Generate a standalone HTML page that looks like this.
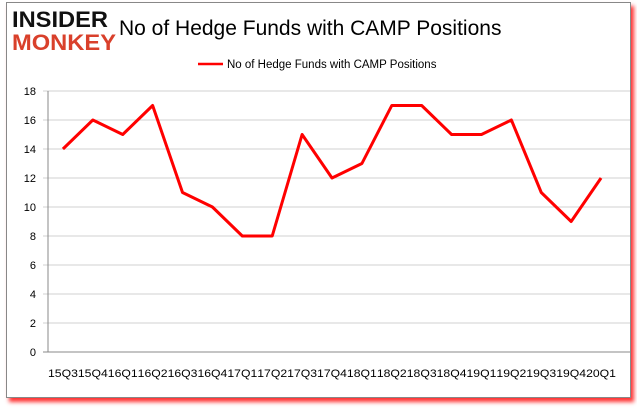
<!DOCTYPE html>
<html><head><style>
body{margin:0;background:#fff;width:637px;height:408px;overflow:hidden;font-family:"Liberation Sans",sans-serif}
#frame{position:absolute;left:6px;top:2px;width:623px;height:394px;border:1px solid #888;background:#fff;box-shadow:3px 4px 4px #f33}
</style></head><body>
<div id="frame"></div>
<svg width="637" height="408" style="position:absolute;left:0;top:0">
<text x="12" y="27" font-size="22" font-weight="900" fill="#111" font-family="Liberation Sans" textLength="96" lengthAdjust="spacingAndGlyphs">INSIDER</text>
<text x="12" y="50" font-size="22" font-weight="900" fill="#d9402b" font-family="Liberation Sans" textLength="104" lengthAdjust="spacingAndGlyphs">MONKEY</text>
<text x="119" y="35" font-size="21" fill="#000">No of Hedge Funds with CAMP Positions</text>
<line x1="198" y1="64" x2="223" y2="64" stroke="red" stroke-width="2.5"/>
<text x="227" y="68" font-size="11.5" fill="#000">No of Hedge Funds with CAMP Positions</text>
<g id="grid"></g><g id="ylab"></g><g id="xlab"></g>
<polyline id="series" fill="none" stroke="red" stroke-width="3" stroke-linejoin="round"/>
</svg>
<script>
const categories=["15Q3","15Q4","16Q1","16Q2","16Q3","16Q4","17Q1","17Q2","17Q3","17Q4","18Q1","18Q2","18Q3","18Q4","19Q1","19Q2","19Q3","19Q4","20Q1"];
const values=[14,16,15,17,11,10,8,8,15,12,13,17,17,15,15,16,11,9,12];
const yTicks=[0,2,4,6,8,10,12,14,16,18];
const L=48,PR=616,R=630,T=91,B=352,ymax=18;
const bw=(PR-L)/categories.length;
const xs=i=>L+bw*(i+0.5), ys=v=>B-(v/ymax)*(B-T);
const ns="http://www.w3.org/2000/svg";
const g=document.getElementById('grid'),yl=document.getElementById('ylab'),xl=document.getElementById('xlab');
yTicks.forEach(t=>{
 const l=document.createElementNS(ns,'line');
 
 
 l.setAttribute('x1',L-5);l.setAttribute('x2',R);l.setAttribute('y1',ys(t));l.setAttribute('y2',ys(t));
 l.setAttribute('stroke',t===0?'#888':'#d0d0d0');g.appendChild(l);
 const tx=document.createElementNS(ns,'text');
 
 
 tx.setAttribute('x',36);tx.setAttribute('y',ys(t)+4);tx.setAttribute('text-anchor','end');tx.setAttribute('font-size','11');
 tx.textContent=t;yl.appendChild(tx);
});
const ax=document.createElementNS(ns,'line');


ax.setAttribute('x1',L);ax.setAttribute('x2',L);ax.setAttribute('y1',T);ax.setAttribute('y2',B);ax.setAttribute('stroke','#888');g.appendChild(ax);
categories.forEach((c,i)=>{
 const tx=document.createElementNS(ns,'text');
 
 
 tx.setAttribute('x',xs(i));tx.setAttribute('y',377);tx.setAttribute('text-anchor','middle');tx.setAttribute('font-size','11');
 tx.setAttribute('textLength',bw);tx.setAttribute('lengthAdjust','spacingAndGlyphs');
 tx.textContent=c;xl.appendChild(tx);
});
document.getElementById('series').setAttribute('points',values.map((v,i)=>xs(i)+','+ys(v)).join(' '));
</script>
</body></html>
